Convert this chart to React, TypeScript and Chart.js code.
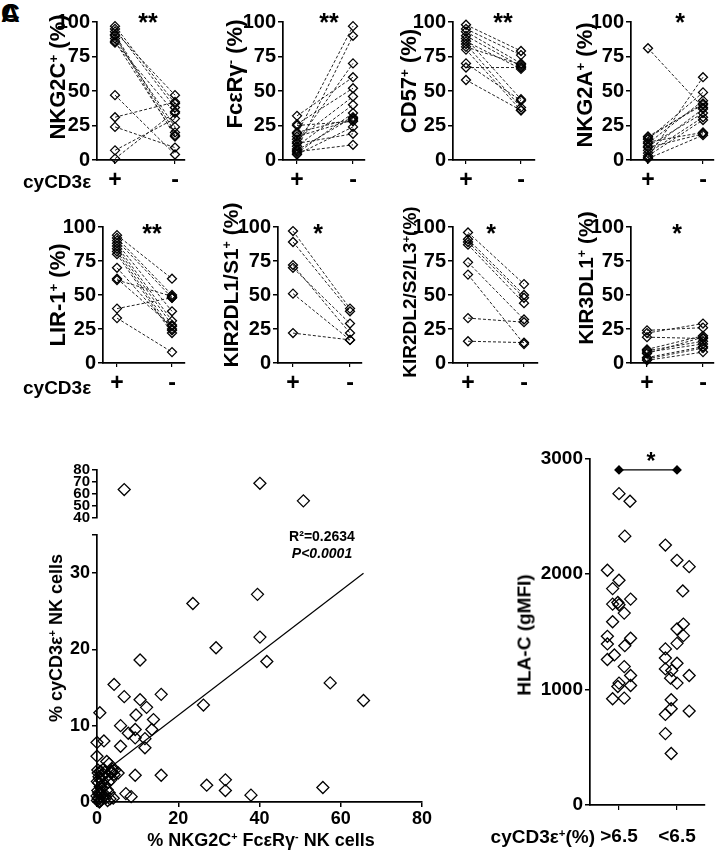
import React, { useEffect, useRef } from 'react';
import { Chart, registerables } from 'chart.js';
Chart.register(...registerables);

const FONT = "'Liberation Sans', Arial, Helvetica, sans-serif";
Chart.defaults.font.family = FONT;
Chart.defaults.color = '#000';

// ---------- paired data (cyCD3e+ vs cyCD3e-) ----------
const nkg2cPos = [97, 95, 93, 91, 90, 88, 86, 85, 47, 31, 24, 7, 1];
const nkg2cNeg = [41, 38, 47, 20, 17, 24, 18, 34, 4, 42, 9, 30, 35];
const fcerPos = [19, 8, 13, 32, 26, 15, 10, 5, 20, 17, 4, 12, 6, 25, 7];
const fcerNeg = [97, 90, 70, 60, 52, 46, 40, 34, 30, 29, 24, 19, 11, 28, 31];
const cd57Pos = [98, 95, 93, 90, 88, 86, 84, 82, 80, 70, 67, 58];
const cd57Neg = [79, 76, 70, 68, 44, 66, 38, 69, 36, 43, 67, 36];
const nkg2aPos = [81, 2, 15, 12, 17, 7, 10, 5, 3, 13, 1, 9, 16];
const nkg2aNeg = [38, 60, 49, 43, 40, 37, 34, 31, 29, 20, 18, 19, 41];
const lir1Pos = [94, 92, 90, 88, 86, 84, 82, 80, 70, 62, 61, 40, 33];
const lir1Neg = [62, 50, 48, 38, 31, 28, 24, 22, 25, 27, 49, 48, 8];
const kir2dl1Pos = [97, 89, 72, 70, 51, 22];
const kir2dl1Neg = [40, 38, 22, 29, 17, 17];
const kir2dl2Pos = [96, 91, 89, 87, 74, 65, 33, 16];
const kir2dl2Neg = [58, 50, 48, 44, 32, 14, 30, 15];
const kir3dl1Pos = [24, 22, 19, 10, 8, 7, 4, 2, 3, 9];
const kir3dl1Neg = [26, 29, 18, 20, 14, 19, 12, 8, 11, 16];
const pairedTicks = [0, 25, 50, 75, 100];
const pairedCats = ['+', '-'];

// ---------- scatter: % NKG2C+ FceRg- (x) vs % cyCD3e+ (y) ----------
const scatterX = [6.7, 40.1, 50.8, 23.6, 39.5, 40.1, 29.3, 10.6, 41.8, 4.2, 57.4, 65.6, 15.8, 6.7, 10.6, 26.2, 0.7, 12.2, 9.6, 13.9, 5.8, 9.4, 13.5, 7.7, 1.7, 0.0, 9.4, 11.8, 5.8, 11.8, 0.0, 2.4, 3.0, 4.4, 5.2, 3.6, 9.4, 15.8, 31.6, 27.0, 31.6, 37.9, 55.6, 7.1, 8.4, 4.0,
  0.1, 0.3, 0.5, 0.2, 0.8, 1.0, 0.4, 1.5, 0.6, 1.2, 0.3, 2.0, 1.8, 2.5, 0.9, 0.2, 1.4, 2.2, 0.7, 3.0, 1.1, 0.5, 2.8, 1.6, 3.5, 3.2, 0.0, 0.1, 2.6, 1.9, 0.4, 1.3, 3.8, 4.2, 3.4, 0.6, 0.9, 2.1];
const scatterY = [63.7, 68.9, 54.3, 26.0, 27.2, 21.6, 20.2, 18.6, 18.4, 15.4, 15.6, 13.3, 14.1, 13.8, 13.4, 12.7, 11.7, 12.4, 11.4, 10.8, 10.0, 9.5, 9.5, 9.0, 8.0, 7.8, 8.4, 8.3, 7.3, 7.1, 6.0, 5.3, 5.0, 4.2, 3.8, 4.0, 3.5, 3.5, 2.9, 2.2, 1.5, 0.9, 1.9, 1.1, 0.7, 0.5,
  0.2, 0.5, 1.0, 1.5, 2.0, 0.3, 2.5, 1.2, 3.0, 3.5, 3.8, 2.2, 0.8, 1.6, 4.0, 4.2, 2.8, 3.2, 0.1, 1.2, 1.8, 3.3, 2.6, 4.3, 3.8, 0.4, 0.8, 2.7, 0.2, 3.9, 1.2, 0.6, 4.3, 3.6, 2.9, 0.0, 1.1, 0.5];
const fitIntercept = 3.2;
const fitSlope = 0.408;
const fitXRange = [0, 65.6];
const scatterXTicks = [0, 20, 40, 60, 80];
const lowerYTicks = [0, 10, 20, 30];
const upperYTicks = [40, 50, 60, 70, 80];
const axisBreakLow = 35;
const axisBreakHigh = 40;

// ---------- HLA-C gMFI by cyCD3e+ group ----------
const hlaGroups = ['>6.5', '<6.5'];
const hlaHigh = [2695, 2629, 2327, 2032, 1945, 1873, 1782, 1753, 1739, 1733, 1661, 1586, 1443, 1460, 1394, 1379, 1299, 1259, 1198, 1121, 1055, 1026, 1034, 920, 925];
const hlaHighJitter = [0, 0.19, 0.1, -0.2, 0, -0.11, 0.2, -0.02, -0.11, 0, 0.09, -0.11, 0.2, -0.2, -0.2, 0.1, -0.08, -0.2, 0.09, 0.2, 0, -0.02, 0.2, -0.11, 0.09];
const hlaLow = [2250, 2118, 2063, 1853, 1566, 1523, 1466, 1399, 1351, 1273, 1227, 1178, 1164, 1121, 1098, 1055, 911, 833, 784, 813, 618, 446];
const hlaLowJitter = [-0.2, 0, 0.21, 0.1, 0.11, 0, 0.11, 0, -0.2, -0.2, 0, -0.2, -0.09, 0.21, -0.11, 0, -0.1, -0.1, -0.2, 0.21, -0.2, -0.1];
const hlaTicks = [0, 1000, 2000, 3000];
const hlaSigLevel = 2900;

// ---------- layout ----------
const ROWS = [{ top: 20, bottom: 160 }, { top: 225, bottom: 363 }];
const PANELS = [
  { pos: nkg2cPos, neg: nkg2cNeg, row: 0, ax: 97, px: 115, mx: 175, ex: 185 },
  { pos: fcerPos, neg: fcerNeg, row: 0, ax: 283, px: 297, mx: 353, ex: 365 },
  { pos: cd57Pos, neg: cd57Neg, row: 0, ax: 453, px: 466, mx: 521, ex: 535 },
  { pos: nkg2aPos, neg: nkg2aNeg, row: 0, ax: 631, px: 648, mx: 703, ex: 714 },
  { pos: lir1Pos, neg: lir1Neg, row: 1, ax: 103, px: 117, mx: 172, ex: 185 },
  { pos: kir2dl1Pos, neg: kir2dl1Neg, row: 1, ax: 278, px: 293, mx: 350, ex: 362 },
  { pos: kir2dl2Pos, neg: kir2dl2Neg, row: 1, ax: 453, px: 468, mx: 524, ex: 538 },
  { pos: kir3dl1Pos, neg: kir3dl1Neg, row: 1, ax: 631, px: 647, mx: 703, ex: 714 },
];

const bold = (size: number) => ({ size, weight: 'bold' as const, family: FONT });

function ChartBox({ left, top, width, height, make }: any) {
  const ref = useRef<HTMLCanvasElement>(null);
  useEffect(() => {
    const c = new Chart(ref.current as HTMLCanvasElement, make());
    return () => c.destroy();
  }, []);
  return (
    <canvas ref={ref} width={width} height={height}
      style={{ position: 'absolute', left, top, width, height, display: 'block' }} />
  );
}

const diamond = (r: number) => ({
  pointStyle: 'rectRot',
  pointRadius: r,
  pointHoverRadius: r,
  pointBorderColor: '#000',
  pointBorderWidth: 1.3,
  pointBackgroundColor: 'rgba(255,255,255,0)',
});

function yAxis(min: number, max: number, ticks: number[], width: number, size: number, hide: number | null = null) {
  return {
    type: 'linear', min, max,
    afterBuildTicks: (s: any) => { s.ticks = ticks.map((v) => ({ value: v })); },
    afterFit: (s: any) => { s.width = width; },
    ticks: {
      font: bold(size), color: '#000', padding: 2, autoSkip: false,
      callback: (v: number) => (v === hide ? '' : String(v)),
    },
    grid: { drawOnChartArea: false, tickLength: 5, color: '#000', lineWidth: 1.5 },
    border: { color: '#000', width: 1.7 },
  };
}

function pairedMake(p: any, YW: number, PT: number, PR: number, XH: number) {
  const span = p.mx - p.px;
  const min = -(p.px - p.ax) / span;
  const max = 1 + (p.ex - p.mx) / span;
  return () => ({
    type: 'line',
    data: {
      datasets: p.pos.map((v: number, i: number) => ({
        data: [{ x: 0, y: v }, { x: 1, y: p.neg[i] }],
        borderColor: '#222',
        borderWidth: 1,
        borderDash: [3, 2],
        fill: false,
        clip: false,
        ...diamond(4.5),
      })),
    },
    options: {
      animation: false, responsive: false, maintainAspectRatio: false,
      layout: { padding: { top: PT, right: PR, left: 0, bottom: 0 } },
      plugins: { legend: { display: false }, tooltip: { enabled: false } },
      scales: {
        x: {
          type: 'linear', min, max,
          afterBuildTicks: (s: any) => { s.ticks = [{ value: 0 }, { value: 1 }]; },
          afterFit: (s: any) => { s.height = XH; },
          ticks: { callback: (v: number) => pairedCats[v], font: bold(23), color: '#000', padding: 3, maxRotation: 0, autoSkip: false },
          grid: { drawOnChartArea: false, tickLength: 4, color: '#000', lineWidth: 1.2 },
          border: { color: '#000', width: 1.7 },
        },
        y: yAxis(0, 100, pairedTicks, YW, 20),
      },
    },
  });
}

function Txt({ x, y, size, children, anchor = 'center', italic = false }: any) {
  const tx = anchor === 'center' ? '-50%' : anchor === 'right' ? '-100%' : '0';
  return (
    <div style={{
      position: 'absolute', left: x, top: y, transform: `translate(${tx},-50%)`,
      whiteSpace: 'nowrap', fontSize: size, fontWeight: 'bold', lineHeight: 1,
      fontFamily: FONT, fontStyle: italic ? 'italic' : 'normal', color: '#000',
    }}>{children}</div>
  );
}

function VTxt({ x, y, size, children }: any) {
  return (
    <div style={{
      position: 'absolute', left: x, top: y, transform: 'translate(-50%,-50%) rotate(-90deg)',
      whiteSpace: 'nowrap', fontSize: size, fontWeight: 'bold', lineHeight: 1, fontFamily: FONT, color: '#000',
    }}>{children}</div>
  );
}

const Sup = ({ children }: any) => (
  <span style={{ fontSize: '0.6em', position: 'relative', top: '-0.55em' }}>{children}</span>
);

export default function App() {
  const YW = 45, PT = 12, PR = 8, XH = 40;

  // scatter geometry
  const sAx = 97, sEx = 422, sLowTop = 532, sBottom = 802, sUpTop = 467, sUpBottom = 521;
  const sYW = 40, sPR = 14;
  const lowerPts = scatterX.map((x, i) => ({ x, y: scatterY[i] })).filter((p) => p.y <= axisBreakLow);
  const upperPts = scatterX.map((x, i) => ({ x, y: scatterY[i] })).filter((p) => p.y >= axisBreakHigh);
  const fitPts = fitXRange.map((x) => ({ x, y: fitIntercept + fitSlope * x }));

  const scatterXScale = (display: boolean, h: number) => ({
    type: 'linear', min: 0, max: 80, display,
    afterBuildTicks: (s: any) => { s.ticks = scatterXTicks.map((v) => ({ value: v })); },
    afterFit: (s: any) => { if (display) s.height = h; },
    ticks: { font: bold(18), color: '#000', padding: 1, maxRotation: 0, autoSkip: false, callback: (v: number) => String(v) },
    grid: { drawOnChartArea: false, tickLength: 5, color: '#000', lineWidth: 1.5 },
    border: { color: '#000', width: 1.7 },
  });

  const lowerMake = () => ({
    type: 'scatter',
    data: {
      datasets: [
        { data: lowerPts, clip: false, ...diamond(6) },
        { type: 'line', data: fitPts, borderColor: '#000', borderWidth: 1.2, pointRadius: 0, fill: false },
      ],
    },
    options: {
      animation: false, responsive: false, maintainAspectRatio: false,
      layout: { padding: { top: 10, right: sPR, left: 0, bottom: 0 } },
      plugins: { legend: { display: false }, tooltip: { enabled: false } },
      scales: {
        x: scatterXScale(true, 30),
        y: yAxis(0, axisBreakLow, [...lowerYTicks, axisBreakLow], sYW, 18, axisBreakLow),
      },
    },
  });

  const upperMake = () => ({
    type: 'scatter',
    data: { datasets: [{ data: upperPts, clip: false, ...diamond(6) }] },
    options: {
      animation: false, responsive: false, maintainAspectRatio: false,
      layout: { padding: { top: 8, right: sPR, left: 0, bottom: 8 } },
      plugins: { legend: { display: false }, tooltip: { enabled: false } },
      scales: {
        x: scatterXScale(false, 0),
        y: yAxis(axisBreakHigh, 80, upperYTicks, sYW, 15),
      },
    },
  });

  // HLA-C geometry
  const hAx = 590, hG1 = 619, hG2 = 677, hEx = 705, hTop = 457, hBottom = 805;
  const hYW = 56, hPT = 12, hPR = 10, hXH = 45;
  const hSpan = hG2 - hG1;
  const hMin = -(hG1 - hAx) / hSpan, hMax = 1 + (hEx - hG2) / hSpan;

  const hlaMake = () => ({
    type: 'scatter',
    data: {
      datasets: [
        { data: hlaHigh.map((v, i) => ({ x: 0 + hlaHighJitter[i], y: v })), clip: false, ...diamond(6) },
        { data: hlaLow.map((v, i) => ({ x: 1 + hlaLowJitter[i], y: v })), clip: false, ...diamond(6) },
        {
          type: 'line', data: [{ x: 0, y: hlaSigLevel }, { x: 1, y: hlaSigLevel }], borderColor: '#000', borderWidth: 1.3,
          pointStyle: 'rectRot', pointRadius: 4, pointBackgroundColor: '#000', pointBorderColor: '#000', clip: false,
        },
      ],
    },
    options: {
      animation: false, responsive: false, maintainAspectRatio: false,
      layout: { padding: { top: hPT, right: hPR, left: 0, bottom: 0 } },
      plugins: { legend: { display: false }, tooltip: { enabled: false } },
      scales: {
        x: {
          type: 'linear', min: hMin, max: hMax,
          afterBuildTicks: (s: any) => { s.ticks = [{ value: 0 }, { value: 1 }]; },
          afterFit: (s: any) => { s.height = hXH; },
          ticks: { callback: (v: number) => hlaGroups[v], font: bold(19), color: '#000', padding: 15, maxRotation: 0, autoSkip: false },
          grid: { drawOnChartArea: false, tickLength: 5, color: '#000', lineWidth: 1.2 },
          border: { color: '#000', width: 1.7 },
        },
        y: yAxis(0, 3000, hlaTicks, hYW, 19),
      },
    },
  });

  const titles1 = [
    { x: 58, y: 77, s: 22, t: <>NKG2C<Sup>+</Sup> (%)</> },
    { x: 235, y: 74, s: 22, t: <>FcεRγ<Sup>-</Sup> (%)</> },
    { x: 409, y: 81, s: 22, t: <>CD57<Sup>+</Sup> (%)</> },
    { x: 585, y: 85, s: 22, t: <>NKG2A<Sup>+</Sup> (%)</> },
    { x: 58, y: 295, s: 22, t: <>LIR-1<Sup>+</Sup> (%)</> },
    { x: 230, y: 285, s: 21, t: <>KIR2DL1/S1<Sup>+</Sup> (%)</> },
    { x: 409, y: 292, s: 19, t: <>KIR2DL2/S2/L3<Sup>+</Sup>(%)</> },
    { x: 585, y: 278, s: 21, t: <>KIR3DL1<Sup>+</Sup> (%)</> },
  ];
  const stars = [
    { x: 148, y: 22, t: '**' }, { x: 329, y: 22, t: '**' }, { x: 503, y: 22, t: '**' }, { x: 680, y: 22, t: '*' },
    { x: 152, y: 233, t: '**' }, { x: 318, y: 233, t: '*' }, { x: 491, y: 233, t: '*' }, { x: 677, y: 233, t: '*' },
  ];

  return (
    <div style={{ position: 'absolute', left: 0, top: 0, width: 718, height: 852, background: '#fff', overflow: 'hidden', fontFamily: FONT }}>
      <Txt x={1} y={13} size={26} anchor="left">A</Txt>
      <Txt x={1} y={13} size={26} anchor="left">C</Txt>

      {PANELS.map((p, i) => {
        const r = ROWS[p.row];
        const left = p.ax - YW;
        const top = r.top - PT;
        const width = YW + (p.ex - p.ax) + PR;
        const height = PT + (r.bottom - r.top) + XH;
        return <ChartBox key={i} left={left} top={top} width={width} height={height} make={pairedMake(p, YW, PT, PR, XH)} />;
      })}
      {titles1.map((t, i) => <VTxt key={i} x={t.x} y={t.y} size={t.s}>{t.t}</VTxt>)}
      {stars.map((s, i) => <Txt key={i} x={s.x} y={s.y} size={25}>{s.t}</Txt>)}
      <Txt x={23} y={181} size={19} anchor="left">cyCD3ε</Txt>
      <Txt x={23} y={387} size={19} anchor="left">cyCD3ε</Txt>

      <ChartBox left={sAx - sYW} top={sUpTop - 8} width={sYW + (sEx - sAx) + sPR} height={8 + (sUpBottom - sUpTop) + 8} make={upperMake} />
      <ChartBox left={sAx - sYW} top={sLowTop - 10} width={sYW + (sEx - sAx) + sPR} height={10 + (sBottom - sLowTop) + 30} make={lowerMake} />
      <VTxt x={56} y={638} size={18}>% cyCD3ε<Sup>+</Sup> NK cells</VTxt>
      <Txt x={261} y={840} size={18}>% NKG2C<Sup>+</Sup> FcεRγ<Sup>-</Sup> NK cells</Txt>
      <Txt x={322} y={536} size={14}>R²=0.2634</Txt>
      <Txt x={322} y={553} size={14} italic>P&lt;0.0001</Txt>

      <ChartBox left={hAx - hYW} top={hTop - hPT} width={hYW + (hEx - hAx) + hPR} height={hPT + (hBottom - hTop) + hXH} make={hlaMake} />
      <VTxt x={524} y={635} size={19}>HLA-C (gMFI)</VTxt>
      <Txt x={595} y={836} size={19} anchor="right">cyCD3ε<Sup>+</Sup>(%)</Txt>
      <Txt x={651} y={461} size={23}>*</Txt>
    </div>
  );
}
